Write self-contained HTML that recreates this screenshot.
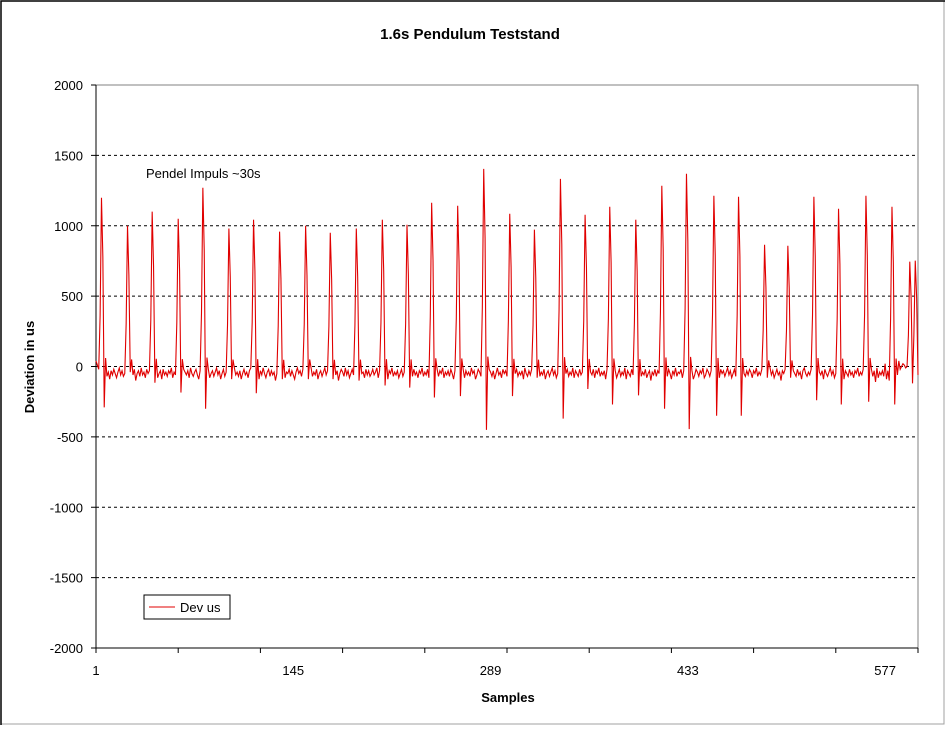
<!DOCTYPE html>
<html><head><meta charset="utf-8"><style>
body{margin:0;background:#fff}
svg text{font-family:"Liberation Sans",Arial,sans-serif}
</style></head><body>
<svg id="chart" width="947" height="729" xmlns="http://www.w3.org/2000/svg">
<rect x="0" y="0" width="947" height="729" fill="#fff"/>
<rect x="1" y="1" width="943" height="723" fill="none" stroke="#a0a0a0" stroke-width="1"/>
<path d="M1,725 L1,1 L945,1" fill="none" stroke="#000" stroke-width="1.5"/>
<text x="470" y="39" font-size="15" font-weight="bold" text-anchor="middle">1.6s Pendulum Teststand</text>
<rect x="96" y="85" width="822" height="563" fill="none" stroke="#808080" stroke-width="1"/>
<g id="grid"></g>
<g id="axes"></g>
<path id="series" fill="none" stroke="#e00000" stroke-width="1.1" stroke-linejoin="miter"/>
<text x="146" y="178" font-size="13">Pendel Impuls ~30s</text>
<text transform="translate(34,367) rotate(-90)" font-size="13" font-weight="bold" text-anchor="middle">Deviation in us</text>
<text x="508" y="702" font-size="13" font-weight="bold" text-anchor="middle">Samples</text>
<g>
<rect x="144" y="595" width="86" height="24" fill="#fff" stroke="#000" stroke-width="1"/>
<line x1="149" y1="607" x2="175" y2="607" stroke="#e00000" stroke-width="1"/>
<text x="180" y="612" font-size="13">Dev us</text>
</g>
</svg>
<script>
const yTicks=[2000,1500,1000,500,0,-500,-1000,-1500,-2000];
const xLabels=[1,145,289,433,577];
const spikeAt=[5,24,42,61,79,98,116,135,154,172,191,210,228,246,265,284,303,321,340,358,376,395,414,432,452,470,489,506,525,543,563,582,595,599];
const spikePeak=[1199,1000,1100,1050,1270,980,1043,958,1000,950,980,1043,1007,1163,1142,1404,1085,972,1333,1078,1135,1043,1284,1369,1213,1206,865,858,1206,1121,1213,1135,745,752];
const spikeTrough=[-290,-40,-115,-185,-300,-90,-190,-90,-90,-90,-100,-135,-150,-220,-210,-450,-210,-80,-370,-160,-270,-205,-300,-445,-350,-350,-80,-80,-240,-270,-250,-270,-120,-60];
const noise=[40,10,-20,-60,-30,-80,-50,-10,-70,-40,-90,-30,-60,-20,-50,-80,-40,-10,-60,-30,
-70,-50,-20,10,-40,-90,-30,-60,-20,-100,-50,-30,-70,-10,-60,-40,-80,-20,-50,-30,
-70,-20,-60,-40,-10,-80,-50,-30,-90,-20,-60,-40,-70,-30,-50,-10,-80,-40,-60,-20,
-30,-70,-50,-100,-20,-40,-60,-30,-80,-10,-50,-70,-40,-20,-60,-90,-30,-50,-10,-70,
-40,-60,-20,-80,-50,-30,-70,-40,-10,-60,-30,-90,-50,-20,-70,-40,-60,-30,-80,-20,
-50,-10,-60,-40,-70,-30,-90,-50,-20,-60,-40,-80,-30,-10,-70,-50,-20,-60,-40,-90,
-30,-60,-10,-50,-80,-40,-20,-70,-30,-60,-40,-100,-50,-20,-70,-30,-60,-10,-80,-40,
-50,-20,-70,-30,-60,-90,-40,-10,-50,-30,-70,-20,-60,-40,-80,-30,-50,-10,-70,-40,
-60,-20,-90,-50,-30,-70,-40,-10,-60,-30,-80,-50,-20,-70,-40,-60,-30,-100,-50,-20,
-40,-70,-10,-60,-30,-80,-50,-20,-60,-40,-90,-30,-70,-10,-50,-40,-80,-20,-60,-30,
-70,-50,-20,-60,-40,-10,-80,-30,-50,-70,-20,-60,-40,-90,-30,-50,-10,-70,-40,-60,
-30,-80,-50,-20,-70,-40,-60,-10,-90,-30,-50,-70,-20,-60,-40,-80,-30,-50,-10,-70,
-40,-60,-20,-80,-50,-30,-100,-40,-60,-20,-70,-30,-50,-10,-80,-40,-60,-30,-70,-20,
-50,-90,-30,-60,-10,-70,-40,-50,-20,-80,-30,-60,-40,-70,-10,-50,-30,-90,-60,-20,
-40,-70,-30,-50,-10,-80,-60,-20,-40,-70,-30,-90,-50,-10,-60,-40,-80,-20,-50,-30,
-70,-40,-10,-60,-30,-80,-50,-20,-70,-40,-60,-30,-90,-10,-50,-70,-30,-60,-20,-40,
-80,-30,-50,-10,-70,-40,-60,-20,-90,-50,-30,-70,-40,-10,-60,-30,-80,-50,-20,-60,
-40,-100,-30,-50,-20,-70,-40,-60,-10,-80,-30,-50,-70,-20,-60,-40,-90,-30,-10,-50,
-70,-40,-60,-20,-80,-30,-50,-10,-70,-40,-60,-30,-90,-20,-50,-70,-40,-10,-60,-30,
-80,-50,-20,-70,-40,-60,-10,-90,-30,-50,-70,-20,-60,-40,-80,-30,-50,-10,-70,-40,
-60,-20,-80,-50,-30,-100,-40,-60,-20,-70,-30,-50,-10,-80,-40,-60,-30,-70,-20,-50,
-90,-30,-60,-10,-70,-40,-50,-20,-80,-30,-60,-40,-70,-10,-50,-30,-90,-60,-20,-40,
-70,-30,-50,-10,-80,-60,-20,-40,-70,-30,-90,-50,-10,-60,-40,-80,-20,-50,-30,-70,
-40,-10,-60,-30,-80,-50,-20,-70,-40,-60,-30,-90,-10,-50,-70,-30,-60,-20,-40,-80,
-30,-50,-10,-70,-40,-60,-20,-90,-50,-30,-70,-40,-10,-60,-30,-80,-50,-20,-60,-40,
-100,-30,-50,-20,-70,-40,-60,-10,-80,-30,-50,-70,-20,-60,-40,-90,-30,-10,-50,-70,
-40,-60,-20,-80,-30,-50,-10,-70,-40,-60,-30,-90,-20,-50,-70,-40,-10,-60,-30,-80,
-50,-20,-70,-40,-60,-10,-90,-30,-50,-70,-20,-60,-40,-80,-30,-50,-10,-70,-40,-60,
-20,-80,-30,-100,-40,-60,-20,-70,-30,-110,-10,-80,-40,-60,-30,-70,20,-90,-30,-100,
-60,-110,-80,-120,-140,-60,40,-20,0,20,10,-10,0,20,-10,0,10,-20,0,10,0];
const ns="http://www.w3.org/2000/svg";
const X0=96,X1=918,Y0=648,Y1=85,S0=1,S1=601,V0=-2000,V1=2000;
function xs(s){return X0+(s-S0)*(X1-X0)/(S1-S0);}
function ys(v){return Y0-(v-V0)*(Y0-Y1)/(V1-V0);}
const grid=document.getElementById('grid'),axes=document.getElementById('axes');
yTicks.forEach(v=>{
  const y=ys(v);
  if(v!==2000&&v!==-2000){
    const g=document.createElementNS(ns,'line');
    
    
    g.setAttribute('x1',X0);g.setAttribute('x2',X1);g.setAttribute('y1',y);g.setAttribute('y2',y);
    g.setAttribute('stroke','#000');g.setAttribute('stroke-dasharray','3,3');
    grid.appendChild(g);
  }
  const t=document.createElementNS(ns,'line');
  
  
  t.setAttribute('x1',X0-5);t.setAttribute('x2',X0);t.setAttribute('y1',y);t.setAttribute('y2',y);t.setAttribute('stroke','#000');
  axes.appendChild(t);
  const l=document.createElementNS(ns,'text');
  
  
  l.setAttribute('x',X0-13);l.setAttribute('y',y+5);l.setAttribute('font-size','13');l.setAttribute('text-anchor','end');
  l.textContent=v;axes.appendChild(l);
});
const ya=document.createElementNS(ns,'line');


ya.setAttribute('x1',X0);ya.setAttribute('x2',X0);ya.setAttribute('y1',Y1);ya.setAttribute('y2',Y0);ya.setAttribute('stroke','#000');
axes.appendChild(ya);
const xa=document.createElementNS(ns,'line');


xa.setAttribute('x1',X0);xa.setAttribute('x2',X1);xa.setAttribute('y1',Y0);xa.setAttribute('y2',Y0);xa.setAttribute('stroke','#000');
axes.appendChild(xa);
for(let s=1;s<=S1;s+=60){
  const t=document.createElementNS(ns,'line');
  
  
  t.setAttribute('x1',xs(s));t.setAttribute('x2',xs(s));t.setAttribute('y1',Y0);t.setAttribute('y2',Y0+5);t.setAttribute('stroke','#000');
  axes.appendChild(t);
}
xLabels.forEach(s=>{
  const l=document.createElementNS(ns,'text');
  
  
  l.setAttribute('x',xs(s));l.setAttribute('y',675);l.setAttribute('font-size','13');l.setAttribute('text-anchor','middle');
  l.textContent=s;axes.appendChild(l);
});
const vals=noise.slice();
spikeAt.forEach((s,i)=>{
  const p=spikePeak[i];
  vals[s-2]=p*0.3;vals[s-1]=p;vals[s]=p*0.65;vals[s+1]=spikeTrough[i];vals[s+2]=p*0.05;
});
let d='';
vals.forEach((v,i)=>{if(i+1<=S1){d+=(i?'L':'M')+xs(i+1).toFixed(2)+','+ys(v).toFixed(2);}});
document.getElementById('series').setAttribute('d',d);
</script>
</body></html>
